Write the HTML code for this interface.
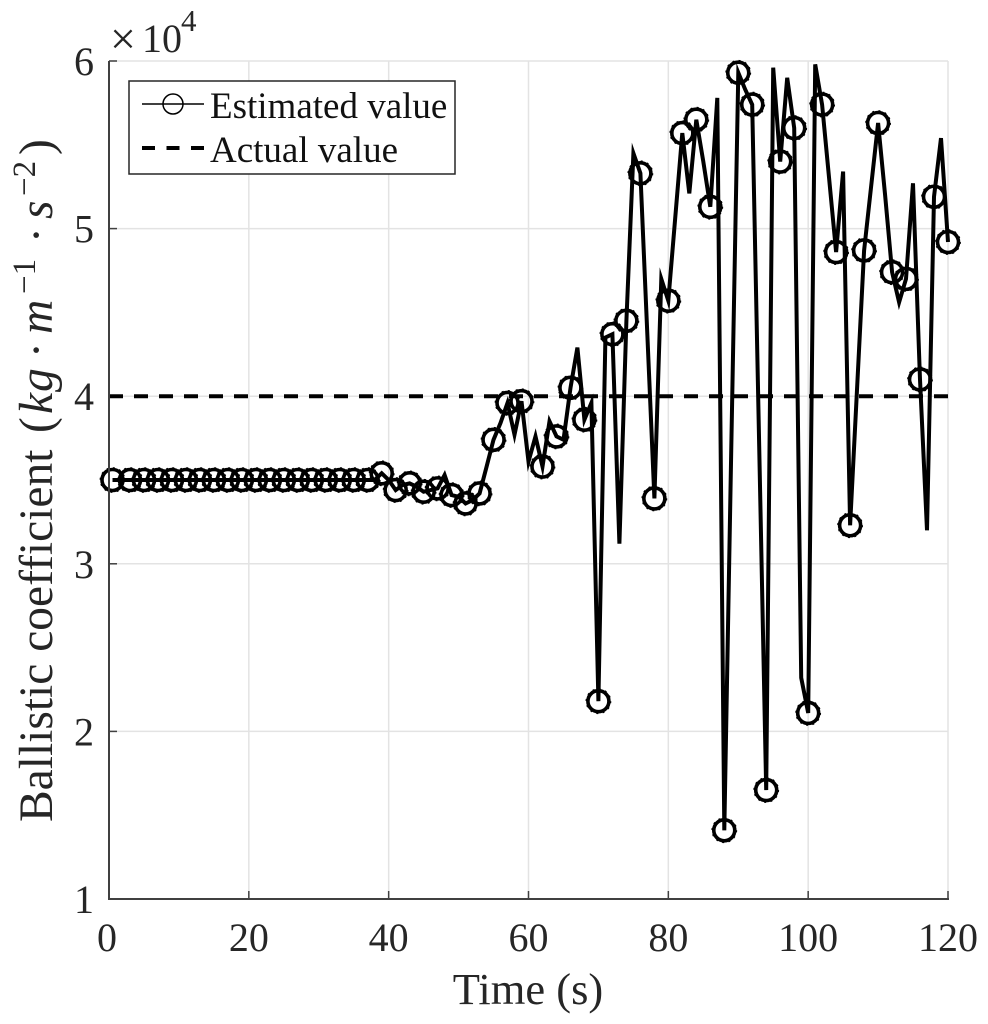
<!DOCTYPE html>
<html lang="en">
<head>
<meta charset="utf-8">
<title>Ballistic coefficient chart</title>
<style>
html,body{margin:0;padding:0;background:#fff;width:988px;height:1024px;overflow:hidden}
svg{display:block;font-family:"Liberation Serif",serif}
</style>
</head>
<body>
<svg id="chart" width="988" height="1024" viewBox="0 0 988 1024" xmlns="http://www.w3.org/2000/svg">
  <g id="grid"></g>
  <g id="ticks"></g>
  <g id="series"></g>
  <line x1="109" y1="61" x2="109" y2="899" stroke="#404040" stroke-width="2"/>
  <line x1="108" y1="899" x2="949" y2="899" stroke="#404040" stroke-width="2"/>
  <g id="tick-labels" fill="#262626" font-size="40"></g>
  <text y="52" font-size="40" fill="#262626"><tspan x="110" y="54" font-size="46">×</tspan><tspan x="142" y="52">10</tspan><tspan x="181" y="31" font-size="31">4</tspan></text>
  <text x="528" y="1004" font-size="44.5" fill="#262626" text-anchor="middle">Time (s)</text>
  <text transform="translate(52,0) rotate(-90)" font-size="47.5" fill="#262626"><tspan x="-822" y="0">Ballistic coefficient</tspan><tspan x="-433" y="0">(</tspan><tspan x="-414" y="0" font-style="italic">k</tspan><tspan x="-392" y="0" font-style="italic">g</tspan><tspan x="-358" y="0">·</tspan><tspan x="-334" y="0" font-style="italic">m</tspan><tspan x="-294" y="-17" font-size="33">−1</tspan><tspan x="-243" y="0">·</tspan><tspan x="-219" y="0" font-style="italic">s</tspan><tspan x="-196" y="-17" font-size="33">−2</tspan><tspan x="-155" y="0">)</tspan></text>
  <g>
    <rect x="129" y="81" width="326" height="93" fill="#fff" stroke="#262626" stroke-width="1.5"/>
    <line x1="142" y1="104" x2="204" y2="104" stroke="#000" stroke-width="1.6"/>
    <circle cx="173" cy="104" r="10" fill="none" stroke="#000" stroke-width="1.5"/>
    <text x="210" y="118" font-size="37" fill="#111">Estimated value</text>
    <line x1="142" y1="148" x2="204" y2="148" stroke="#000" stroke-width="4" stroke-dasharray="13 11.5"/>
    <text x="210" y="162" font-size="37" fill="#111">Actual value</text>
  </g>
</svg>
<script>
const xTicks = [0, 20, 40, 60, 80, 100, 120];
const yTicks = [1, 2, 3, 4, 5, 6];
const actualValue = 4.0;
const sampleTimes = [
  0.5, 2, 3, 4, 5, 6, 7, 8, 9, 10,
  11, 12, 13, 14, 15, 16, 17, 18, 19, 20,
  21, 22, 23, 24, 25, 26, 27, 28, 29, 30,
  31, 32, 33, 34, 35, 36, 37, 38, 39, 40,
  41, 42, 43, 44, 45, 46, 47, 48, 49, 50,
  51, 52, 53, 54, 55, 56, 57, 58, 59, 60,
  61, 62, 63, 64, 65, 66, 67, 68, 69, 70,
  71, 72, 73, 74, 75, 76, 77, 78, 79, 80,
  81, 82, 83, 84, 85, 86, 87, 88, 89, 90,
  91, 92, 93, 94, 95, 96, 97, 98, 99, 100,
  101, 102, 103, 104, 105, 106, 107, 108, 109, 110,
  111, 112, 113, 114, 115, 116, 117, 118, 119, 120
];
const estimatedValues = [
  3.50, 3.50, 3.50, 3.50, 3.50, 3.50, 3.50, 3.50, 3.50, 3.50,
  3.50, 3.50, 3.50, 3.50, 3.50, 3.50, 3.50, 3.50, 3.50, 3.50,
  3.50, 3.50, 3.50, 3.50, 3.50, 3.50, 3.50, 3.50, 3.50, 3.50,
  3.50, 3.50, 3.50, 3.50, 3.50, 3.50, 3.50, 3.50, 3.54, 3.50,
  3.44, 3.47, 3.48, 3.46, 3.43, 3.44, 3.45, 3.53, 3.41, 3.40,
  3.36, 3.38, 3.42, 3.58, 3.74, 3.84, 3.96, 3.77, 3.97, 3.61,
  3.76, 3.58, 3.85, 3.76, 3.74, 4.05, 4.29, 3.86, 3.96, 2.18,
  4.35, 4.37, 3.12, 4.45, 5.45, 5.33, 4.36, 3.39, 4.70, 4.57,
  5.07, 5.57, 5.21, 5.65, 5.40, 5.13, 5.78, 1.41, 3.70, 5.93,
  5.83, 5.74, 3.70, 1.65, 5.96, 5.40, 5.90, 5.60, 2.32, 2.11,
  5.98, 5.74, 5.30, 4.86, 5.34, 3.23, 4.05, 4.87, 5.25, 5.63,
  5.20, 4.74, 4.56, 4.70, 5.27, 4.10, 3.20, 5.19, 5.54, 4.92
];
const markerTimes = [
  0.5, 3, 5, 7, 9, 11, 13, 15, 17, 19, 21, 23, 25, 27, 29, 31, 33, 35, 37,
  39, 41, 43, 45, 47, 49, 51, 53, 55, 57, 59,
  62, 64, 66, 68, 70, 72, 74, 76, 78, 80, 82, 84, 86, 88, 90, 92, 94, 96, 98,
  100, 102, 104, 106, 108, 110, 112, 114, 116, 118, 120
];

const NS = 'http://www.w3.org/2000/svg';
const xDomain = [0, 120];
const yDomain = [1, 6];
const plot = { left: 109, right: 948, top: 61, bottom: 899 };

function xScale(t) {
  return plot.left + (t - xDomain[0]) / (xDomain[1] - xDomain[0]) * (plot.right - plot.left);
}
function yScale(v) {
  return plot.bottom - (v - yDomain[0]) / (yDomain[1] - yDomain[0]) * (plot.bottom - plot.top);
}
function make(tag, attrs, parent) {
  const el = document.createElementNS(NS, tag);
  Object.keys(attrs).forEach(function (k) { el.setAttribute(k, attrs[k]); });
  parent.appendChild(el);
  return el;
}

const gridLayer = document.getElementById('grid');
const tickLayer = document.getElementById('ticks');
const labelLayer = document.getElementById('tick-labels');
const seriesLayer = document.getElementById('series');

xTicks.forEach(function (t) {
  const x = xScale(t);
  const g = make('line', { x1: x, y1: plot.top, x2: x, y2: plot.bottom, stroke: '#e3e3e3', 'stroke-width': 1.5 }, gridLayer);
  
  
  const m = make('line', { x1: x, y1: plot.bottom, x2: x, y2: plot.bottom - 8, stroke: '#404040', 'stroke-width': 1.5 }, tickLayer);
  
  
  const l = make('text', { x: x - (t === 0 ? 2 : 0), y: 951, 'text-anchor': 'middle' }, labelLayer);
  
  
  l.textContent = String(t);
});

yTicks.forEach(function (v) {
  const y = yScale(v);
  const g = make('line', { x1: plot.left, y1: y, x2: plot.right, y2: y, stroke: '#e3e3e3', 'stroke-width': 1.5 }, gridLayer);
  
  
  const m = make('line', { x1: plot.left, y1: y, x2: plot.left + 8, y2: y, stroke: '#404040', 'stroke-width': 1.5 }, tickLayer);
  
  
  const l = make('text', { x: 94, y: y + 14, 'text-anchor': 'end' }, labelLayer);
  
  
  l.textContent = String(v);
});

const actualLine = make('line', {
  x1: xScale(0), y1: yScale(actualValue), x2: xScale(120), y2: yScale(actualValue),
  stroke: '#000', 'stroke-width': 4, 'stroke-dasharray': '14 11'
}, seriesLayer);



const points = estimatedValues.map(function (v, i) {
  return xScale(sampleTimes[i]).toFixed(1) + ',' + yScale(v).toFixed(1);
}).join(' ');
const estimatedLine = make('polyline', {
  points: points, fill: 'none', stroke: '#000', 'stroke-width': 4, 'stroke-linejoin': 'miter', 'stroke-miterlimit': 6
}, seriesLayer);



markerTimes.forEach(function (t) {
  const value = estimatedValues[sampleTimes.indexOf(t)];
  const c = make('circle', {
    cx: xScale(t), cy: yScale(value), r: 10.5,
    fill: 'none', stroke: '#000', 'stroke-width': 3.6
  }, seriesLayer);
  
  
  const nubs = make('circle', {
    cx: xScale(t), cy: yScale(value), r: 12.2,
    fill: 'none', stroke: '#000', 'stroke-width': 1.4, 'stroke-dasharray': '2 4.39'
  }, seriesLayer);
  
  
});
</script>
</body>
</html>
